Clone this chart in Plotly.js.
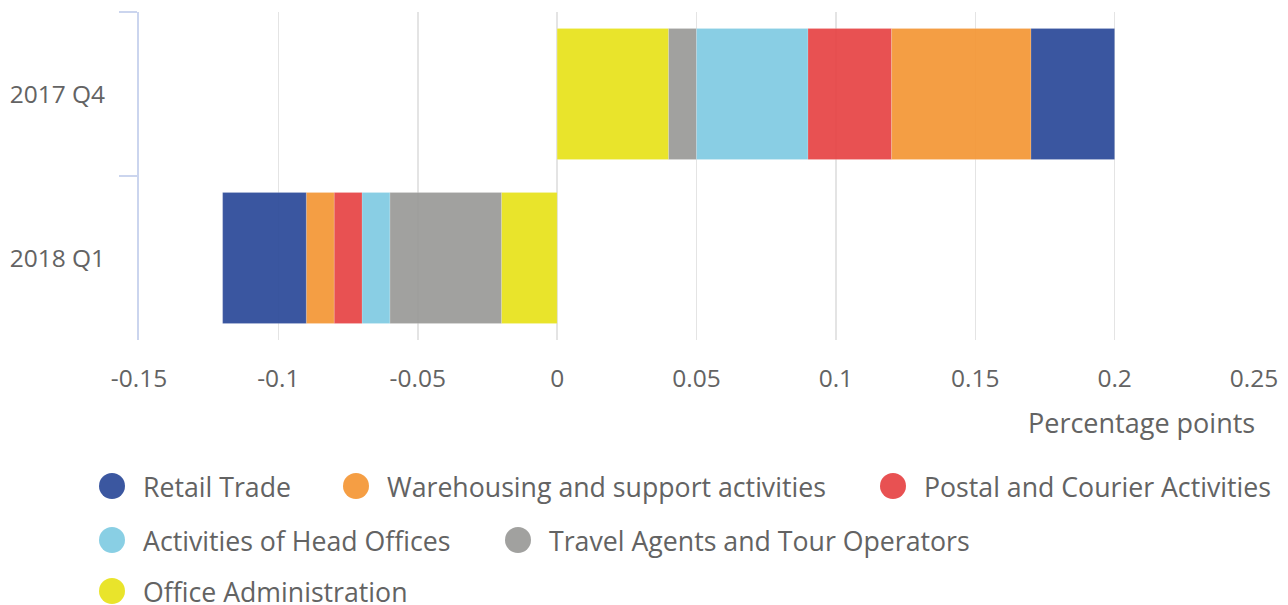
<!DOCTYPE html>
<html>
<head>
<meta charset="utf-8">
<script src="https://cdn.plot.ly/plotly-3.0.1.min.js"></script>
<style>html,body{margin:0;padding:0;background:#fff;}#chart{width:1288px;height:605px;}</style>
</head>
<body>
<div id="chart"></div>
<script>
const categories = ['2017 Q4', '2018 Q1'];
const seriesNames = ['Retail Trade', 'Warehousing and support activities', 'Postal and Courier Activities',
  'Activities of Head Offices', 'Travel Agents and Tour Operators', 'Office Administration'];
const retailTrade = [0.03, -0.03];
const warehousing = [0.05, -0.01];
const postalCourier = [0.03, -0.01];
const headOffices = [0.04, -0.01];
const travelAgents = [0.01, -0.04];
const officeAdmin = [0.04, -0.02];
const xTickVals = [-0.15, -0.1, -0.05, 0, 0.05, 0.1, 0.15, 0.2, 0.25];
const xTickText = ['-0.15', '-0.1', '-0.05', '0', '0.05', '0.1', '0.15', '0.2', '0.25'];

const seriesValues = [retailTrade, warehousing, postalCourier, headOffices, travelAgents, officeAdmin];
const colors = ['#304E9B', '#F4993A', '#E74849', '#83CCE3', '#9C9C9A', '#E8E320'];

const W = 1288, H = 605;
const M = {l: 139, r: 34, t: 12, b: 265};
const textColor = '#636363';
const fontFamily = '"Open Sans", "Noto Sans", sans-serif';

// stacking order: Office Administration nearest zero
const traces = [];
for (let i = seriesNames.length - 1; i >= 0; i--) {
  traces.push({
    type: 'bar', orientation: 'h',
    name: seriesNames[i], y: categories, x: seriesValues[i],
    marker: {color: colors[i], opacity: 0.95, line: {color: 'rgba(255,255,255,0.35)', width: 0.5}},
    showlegend: false, hoverinfo: 'x+name'
  });
}

// custom legend (circles + labels) placed in pixels, converted to paper coords
const pw = W - M.l - M.r, ph = H - M.t - M.b;
const px = v => (v - M.l) / pw;
const py = v => (H - M.b - v) / ph;
const legendPos = [[112, 486], [356, 486], [893, 486], [112, 540], [518, 540], [112, 591]];
const shapes = [], annotations = [];
seriesNames.forEach((name, i) => {
  const [cx, cy] = legendPos[i];
  shapes.push({type: 'circle', xref: 'paper', yref: 'paper', xsizemode: 'pixel', ysizemode: 'pixel',
    xanchor: px(cx), yanchor: py(cy), x0: -13, x1: 13, y0: -13, y1: 13,
    fillcolor: colors[i], opacity: 0.95, line: {width: 0}});
  annotations.push({xref: 'paper', yref: 'paper', x: px(cx + 29), y: py(cy), xanchor: 'left', yanchor: 'middle',
    text: name, showarrow: false, font: {size: 26.7, color: textColor, family: fontFamily}});
});
annotations.push({xref: 'paper', yref: 'paper', x: px(1257), y: py(423), xanchor: 'right', yanchor: 'middle',
  text: 'Percentage points', showarrow: false, font: {size: 27, color: textColor, family: fontFamily}});

const layout = {
  width: W, height: H,
  margin: M,
  paper_bgcolor: '#fff', plot_bgcolor: '#fff',
  barmode: 'relative', bargap: 0.2,
  font: {family: fontFamily, color: textColor, size: 24},
  showlegend: false,
  xaxis: {
    range: [-0.15, 0.25], tickvals: xTickVals, ticktext: xTickText,
    showgrid: true, gridcolor: '#e4e4e4', gridwidth: 1.5,
    zeroline: false, showline: false, ticks: '',
    tickfont: {size: 24.5, color: textColor}, ticklabelstandoff: 21
  },
  yaxis: {
    type: 'category', categoryarray: categories, categoryorder: 'array',
    range: [1.5, -0.5], showgrid: false, zeroline: false,
    showline: true, linecolor: '#cbd5ee', linewidth: 2,
    ticks: 'outside', tickson: 'boundaries', ticklen: 18, tickcolor: '#cbd5ee', tickwidth: 2,
    tickfont: {size: 24.5, color: textColor}, ticklabelstandoff: 27
  },
  shapes: shapes,
  annotations: annotations
};

Plotly.newPlot('chart', traces, layout, {displayModeBar: false, staticPlot: true});
</script>
</body>
</html>
